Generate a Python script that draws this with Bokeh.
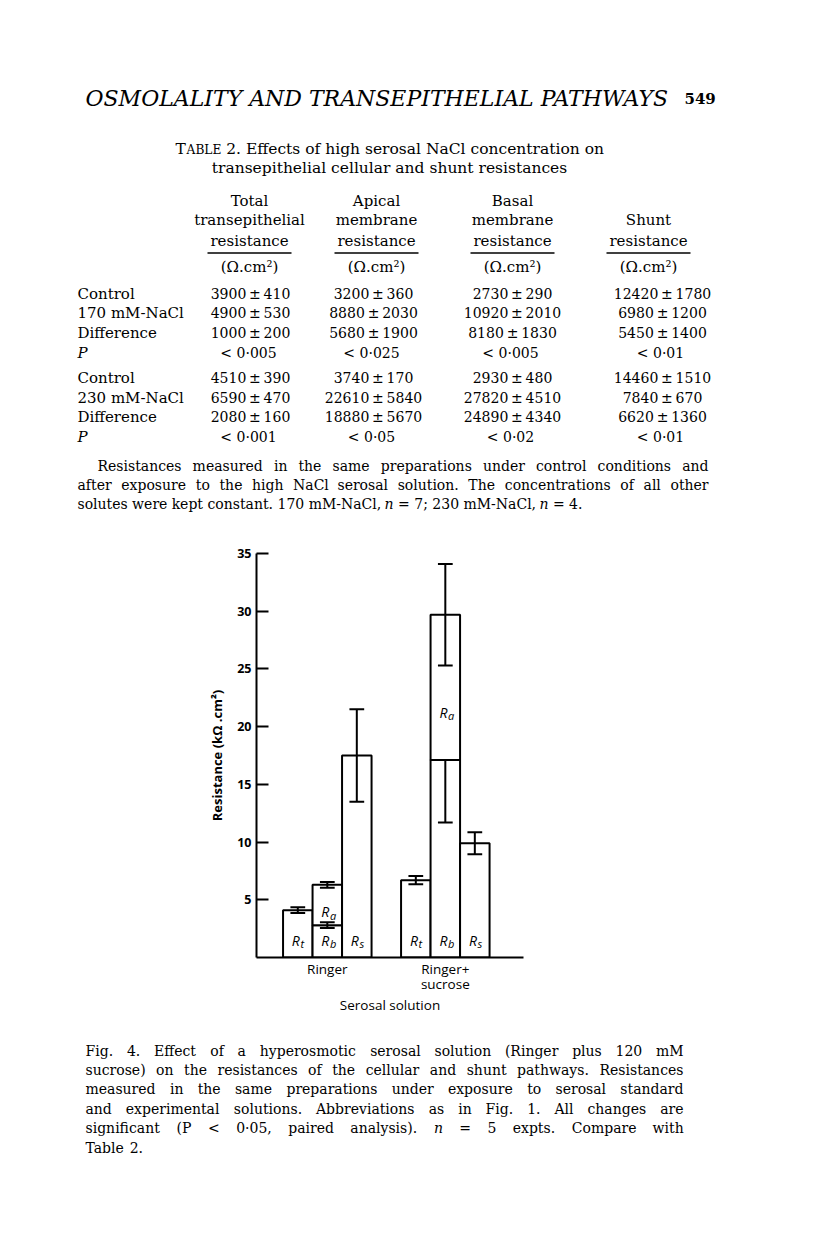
from bokeh.plotting import figure
from bokeh.layouts import column
from bokeh.models import ColumnDataSource, Range1d, FixedTicker
from bokeh.core.properties import value
from bokeh.embed import file_html
from bokeh.resources import INLINE

SERIF = "DejaVu Serif"
SANS = "Open Sans"
PAGE_W = 810

# ---------------- page text ----------------
running_head = "OSMOLALITY AND TRANSEPITHELIAL PATHWAYS"
page_number = "549"
table_word = ("T", "ABLE")
table_title_1 = "2. Effects of high serosal NaCl concentration on"
table_title_2 = "transepithelial cellular and shunt resistances"
col_heads = [["Total", "transepithelial", "resistance"],
             ["Apical", "membrane", "resistance"],
             ["Basal", "membrane", "resistance"],
             ["Shunt", "resistance"]]
unit_text = "(Ω.cm²)"
row_labels = ["Control", "170 mM-NaCl", "Difference", "P",
              "Control", "230 mM-NaCl", "Difference", "P"]
total_mean = [3900, 4900, 1000, 4510, 6590, 2080]
total_sem = [410, 530, 200, 390, 470, 160]
total_p = ["< 0·005", "< 0·001"]
apical_mean = [3200, 8880, 5680, 3740, 22610, 18880]
apical_sem = [360, 2030, 1900, 170, 5840, 5670]
apical_p = ["< 0·025", "< 0·05"]
basal_mean = [2730, 10920, 8180, 2930, 27820, 24890]
basal_sem = [290, 2010, 1830, 480, 4510, 4340]
basal_p = ["< 0·005", "< 0·02"]
shunt_mean = [12420, 6980, 5450, 14460, 7840, 6620]
shunt_sem = [1780, 1200, 1400, 1510, 670, 1360]
shunt_p = ["< 0·01", "< 0·01"]
table_note = ["Resistances measured in the same preparations under control conditions and",
              "after exposure to the high NaCl serosal solution. The concentrations of all other",
              "solutes were kept constant. 170 mM-NaCl, n = 7; 230 mM-NaCl, n = 4."]
caption = ["Fig. 4. Effect of a hyperosmotic serosal solution (Ringer plus 120 mM",
           "sucrose) on the resistances of the cellular and shunt pathways. Resistances",
           "measured in the same preparations under exposure to serosal standard",
           "and experimental solutions. Abbreviations as in Fig. 1. All changes are",
           "significant (P < 0·05, paired analysis). n = 5 expts. Compare with",
           "Table 2."]

# ---------------- chart data (kOhm.cm2) ----------------
groups = ["Ringer", "Ringer+\nsucrose"]
rt_mean = [4.1, 6.7]
rt_err = [0.25, 0.35]
rb_mean = [2.8, 17.1]
rb_err = [0.25, 5.4]
ra_mean = [3.5, 12.6]
ra_err = [0.25, 4.4]
rs_mean = [17.5, 9.9]
rs_err = [4.0, 0.95]
rb_upper_drawn = [True, False]
y_ticks = [5, 10, 15, 20, 25, 30, 35]

# approximate DejaVu Serif advance widths (em), used only to justify lines
ADV = dict(zip("abcdefghijklmnopqrstuvwxyz",
               [.598, .640, .564, .640, .592, .370, .640, .644, .320, .320, .609, .320, .960,
                .644, .602, .640, .640, .478, .512, .401, .644, .586, .843, .584, .586, .527]))
ADV.update(zip("ABCDEFGHIJKLMNOPQRSTUVWXYZ",
               [.724, .733, .732, .807, .734, .697, .779, .870, .410, .410, .760, .695, 1.004,
                .836, .820, .687, .820, .755, .654, .685, .818, .724, 1.027, .727, .685, .690]))
ADV.update({d: .636 for d in "0123456789"})
ADV.update({" ": .318, ".": .318, ",": .318, ";": .337, ":": .337, "(": .39, ")": .39,
            "-": .338, "<": .838, "=": .838, "±": .838, "·": .318, "+": .838})


def tw(s, size):
    return sum(ADV.get(ch, .6) for ch in s) * size


def put(p, xs, ys, texts, size="14px", style="normal", align="left",
        font=SERIF, baseline="middle"):
    if not texts:
        return
    src = ColumnDataSource(dict(x=list(xs), y=list(ys), text=list(texts)))
    p.text(x="x", y="y", text="text", source=src, text_font=value(font),
           text_font_size=size, text_font_style=style, text_align=align,
           text_baseline=baseline, text_color="black")


def words_line(p, line, x0, x1, y, size, justify=True):
    words = line.split(" ")
    ws = [tw(w, size) for w in words]
    gap = (x1 - x0 - sum(ws)) / (len(words) - 1) if justify else .318 * size
    x = x0
    nx, nt, ix, it = [], [], [], []
    for w, wd in zip(words, ws):
        if w == "n":
            ix.append(x); it.append(w)
        else:
            nx.append(x); nt.append(w)
        x += wd + gap
    put(p, nx, [y] * len(nx), nt, size=f"{size}px")
    put(p, ix, [y] * len(ix), it, size=f"{size}px", style="italic")


def blank(h):
    p = figure(width=PAGE_W, height=h, x_range=Range1d(0, PAGE_W), y_range=Range1d(h, 0),
               x_axis_type=None, y_axis_type=None, output_backend="svg",
               toolbar_location=None, min_border=0)
    p.frame_align = False
    p.outline_line_color = None
    p.grid.visible = False
    return p


# ---------------- top part: header + table (page pixel coordinates) ----------------
TOP_H = 520
top = blank(TOP_H)
put(top, [85], [98], [running_head], size="22px", style="italic")
put(top, [684], [98], [page_number], size="15px", style="bold")

TS, SC = 15.5, 12.2
w_t, w_able = tw(table_word[0], TS), tw(table_word[1], SC)
w_rest = tw(table_title_1, TS)
x_start = 389 - (w_t + w_able + .318 * TS + w_rest) / 2
put(top, [x_start], [148], [table_word[0]], size=f"{TS}px")
put(top, [x_start + w_t + 0.5], [149], [table_word[1]], size=f"{SC}px")
put(top, [x_start + w_t + w_able + .318 * TS], [148], [table_title_1], size=f"{TS}px")
put(top, [389], [167], [table_title_2], size=f"{TS}px", align="center")

head_cx = [249, 376, 512, 648]
head_rows_y = [200, 219, 240]
hx, hy, ht = [], [], []
for c, lines in enumerate(col_heads):
    ys = head_rows_y[-len(lines):]
    for t, y in zip(lines, ys):
        hx.append(head_cx[c]); hy.append(y); ht.append(t)
    hx.append(head_cx[c]); hy.append(266); ht.append(unit_text)
put(top, hx, hy, ht, size="15px", align="center")
top.segment(x0=[c - 42 for c in head_cx], x1=[c + 42 for c in head_cx],
            y0=[252.5] * 4, y1=[252.5] * 4, line_color="black", line_width=1.4)

row_y = [293, 312, 332, 352, 377, 397, 416, 436]
lab_x, lab_y, lab_t, p_x, p_y, p_t = [], [], [], [], [], []
for i, lab in enumerate(row_labels):
    if lab == "P":
        p_x.append(77); p_y.append(row_y[i]); p_t.append(lab)
    else:
        lab_x.append(77); lab_y.append(row_y[i]); lab_t.append(lab)
put(top, lab_x, lab_y, lab_t, size="15px")
put(top, p_x, p_y, p_t, size="15px", style="italic")

val_cx = [250, 373, 512, 662]
cols = [(total_mean, total_sem, total_p), (apical_mean, apical_sem, apical_p),
        (basal_mean, basal_sem, basal_p), (shunt_mean, shunt_sem, shunt_p)]
vx, vy, vt = [], [], []
value_rows = [0, 1, 2, 4, 5, 6]
p_rows = [3, 7]
for c, (m, s, pv) in enumerate(cols):
    for k, r in enumerate(value_rows):
        vx.append(val_cx[c]); vy.append(row_y[r]); vt.append(f"{m[k]}\u2009±\u2009{s[k]}")
    for k, r in enumerate(p_rows):
        vx.append(val_cx[c] - 2); vy.append(row_y[r]); vt.append(pv[k])
put(top, vx, vy, vt, size="14px", align="center")

words_line(top, table_note[0], 97, 708, 465, 14)
words_line(top, table_note[1], 77, 708, 484, 14)
words_line(top, table_note[2], 77, 708, 503, 14, justify=False)

# ---------------- chart ----------------
CH_TOP, CH_BOT = 520, 1037
chart = figure(width=PAGE_W, height=CH_BOT - CH_TOP, x_range=Range1d(0, 9.05),
               y_range=Range1d(0, 35), output_backend="svg", toolbar_location=None,
               min_border_left=256, min_border_right=PAGE_W - 523,
               min_border_top=553 - CH_TOP, min_border_bottom=CH_BOT - 957)
chart.frame_align = False
chart.outline_line_color = None
chart.grid.visible = False

lefts, rights, bottoms, tops = [], [], [], []
wx0, wx1, wy0, wy1 = [], [], [], []
cap_x0, cap_x1, cap_y = [], [], []
lab_R_x, lab_R_y, sub_x, sub_y, sub_t = [], [], [], [], []
half_cap = 0.25
for g in range(len(groups)):
    base = 0.9 + 4.0 * g
    segs = [
        (base, 0, rt_mean[g], rt_err[g], True, "t"),
        (base + 1, 0, rb_mean[g], rb_err[g], rb_upper_drawn[g], "b"),
        (base + 1, rb_mean[g], rb_mean[g] + ra_mean[g], ra_err[g], True, "a"),
        (base + 2, 0, rs_mean[g], rs_err[g], True, "s"),
    ]
    for left, bot, topv, err, upper, sub in segs:
        lefts.append(left); rights.append(left + 1); bottoms.append(bot); tops.append(topv)
        cx = left + 0.5
        lo = topv - err
        hi = topv + err if upper else topv
        wx0.append(cx); wx1.append(cx); wy0.append(lo); wy1.append(hi)
        cap_x0.append(cx - half_cap); cap_x1.append(cx + half_cap); cap_y.append(lo)
        if upper:
            cap_x0.append(cx - half_cap); cap_x1.append(cx + half_cap); cap_y.append(hi)
        ly = bot + 0.33 * (topv - bot) if sub == "a" else 1.5
        lab_R_x.append(cx + 0.07); lab_R_y.append(ly)
        sub_x.append(cx + 0.09); sub_y.append(ly - 0.3); sub_t.append(sub)

chart.quad(left=lefts, right=rights, bottom=bottoms, top=tops,
           fill_color="white", line_color="black", line_width=2)
chart.segment(x0=wx0, x1=wx1, y0=wy0, y1=wy1, line_color="black", line_width=2)
chart.segment(x0=cap_x0, x1=cap_x1, y0=cap_y, y1=cap_y, line_color="black", line_width=2)
put(chart, lab_R_x, lab_R_y, ["R"] * len(lab_R_x), size="14px", style="italic",
    align="right", font=SANS)
put(chart, sub_x, sub_y, sub_t, size="11px", style="italic", align="left", font=SANS)

yax = chart.yaxis[0]
yax.ticker = FixedTicker(ticks=y_ticks)
yax.minor_tick_line_color = None
yax.major_tick_in = 12
yax.major_tick_out = 0
yax.major_tick_line_width = 2
yax.axis_line_width = 2
yax.major_label_standoff = 5
yax.major_label_text_font = SANS
yax.major_label_text_font_style = "bold"
yax.major_label_text_font_size = "12.5px"
yax.major_label_text_color = "black"
yax.axis_label = "Resistance (kΩ .cm²)"
yax.axis_label_text_font = SANS
yax.axis_label_text_font_style = "bold"
yax.axis_label_text_font_size = "13px"
yax.axis_label_text_color = "black"
yax.axis_label_standoff = 8

xax = chart.xaxis[0]
centers = [0.9 + 4.0 * g + 1.5 for g in range(len(groups))]
xax.ticker = FixedTicker(ticks=centers)
xax.major_label_overrides = {c: name for c, name in zip(centers, groups)}
xax.major_tick_line_color = None
xax.minor_tick_line_color = None
xax.axis_line_width = 2
xax.major_label_standoff = -4
xax.major_label_text_font = SANS
xax.major_label_text_font_size = "13.5px"
xax.major_label_text_color = "black"
xax.major_label_text_line_height = 0.85
xax.axis_label = "Serosal solution"
xax.axis_label_text_font = SANS
xax.axis_label_text_font_style = "normal"
xax.axis_label_text_font_size = "13.5px"
xax.axis_label_text_color = "black"
xax.axis_label_standoff = 0

# ---------------- caption ----------------
CAP_H = 1250 - CH_BOT
cap = blank(CAP_H)
cap_y = [1050, 1069, 1088, 1108, 1127, 1147]
for i, line in enumerate(caption):
    y = cap_y[i] - CH_BOT
    words_line(cap, line, 85, 683, y, 14, justify=(i < len(caption) - 1))

page = column(top, chart, cap, spacing=0)
open("out.html", "w").write(file_html(page, INLINE))
